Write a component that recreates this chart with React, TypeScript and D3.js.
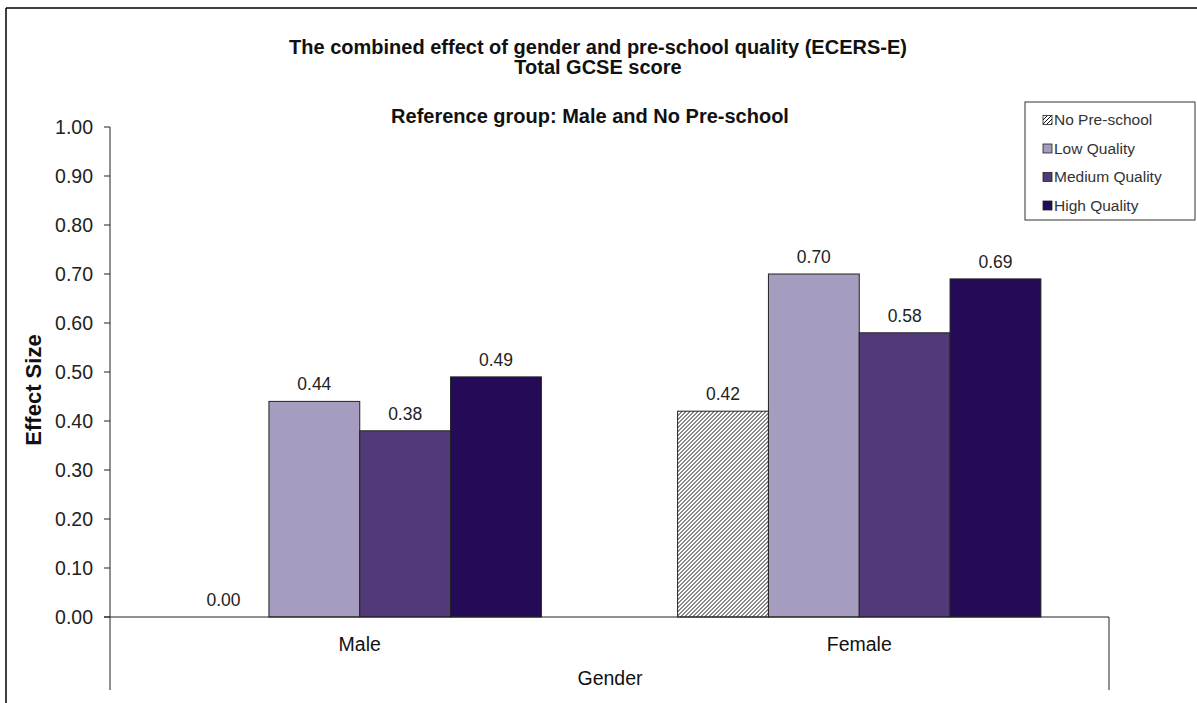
import * as d3 from 'd3';

const categories = ['Male', 'Female'];
const seriesNames = ['No Pre-school', 'Low Quality', 'Medium Quality', 'High Quality'];
const seriesColors = ['url(#hatch)', '#a69cbf', '#523a7a', '#240a57'];
const maleValues = [0.0, 0.44, 0.38, 0.49];
const femaleValues = [0.42, 0.7, 0.58, 0.69];
const yTicks = [0, 0.1, 0.2, 0.3, 0.4, 0.5, 0.6, 0.7, 0.8, 0.9, 1.0];

const values = [maleValues, femaleValues];

export default function App() {
  const width = 1197;
  const height = 703;
  const left = 110;
  const right = 1109;
  const top = 127;
  const bottom = 617;

  const x0 = d3.scaleBand().domain(categories).range([left, right]).paddingInner(0).paddingOuter(0);
  const x1 = d3
    .scaleBand()
    .domain(seriesNames)
    .range([0, x0.bandwidth()])
    .paddingOuter(0.75)
    .paddingInner(0);
  const y = d3.scaleLinear().domain([0, 1]).range([bottom, top]);

  const font = 'Arial, "Liberation Sans", sans-serif';

  return (
    <svg
      width={width}
      height={height}
      style={{ position: 'absolute', left: 0, top: 0, background: '#fff' }}
      fontFamily={font}
    >
      <defs>
        <pattern id='hatch' patternUnits='userSpaceOnUse' width={4} height={4}>
          <rect width={4} height={4} fill='#fff' />
          <path d='M-1,1 l2,-2 M0,4 l4,-4 M3,5 l2,-2' stroke='#111' strokeWidth={1} />
        </pattern>
      </defs>

      {/* outer frame */}
      <line x1={6} y1={8} x2={width} y2={8} stroke='#000' strokeWidth={1.5} />
      <line x1={6} y1={8} x2={6} y2={height} stroke='#000' strokeWidth={1.5} />

      {/* titles */}
      <text x={598} y={54} textAnchor='middle' fontWeight='bold' fontSize={20} fill='#111'>
        The combined effect of gender and pre-school quality (ECERS-E)
      </text>
      <text x={598} y={74} textAnchor='middle' fontWeight='bold' fontSize={20} fill='#111'>
        Total GCSE score
      </text>
      <text x={590} y={123} textAnchor='middle' fontWeight='bold' fontSize={20} fill='#111'>
        Reference group: Male and No Pre-school
      </text>

      {/* y axis */}
      <line x1={left} y1={top} x2={left} y2={690} stroke='#222' />
      {yTicks.map((t) => (
        <g key={t}>
          <line x1={left - 6} x2={left} y1={y(t)} y2={y(t)} stroke='#222' />
          <text x={left - 17} y={y(t)} dy='0.35em' textAnchor='end' fontSize={19.5} fill='#222'>
            {t.toFixed(2)}
          </text>
        </g>
      ))}
      <text
        transform={`translate(41,390) rotate(-90)`}
        textAnchor='middle'
        fontWeight='bold'
        fontSize={22}
        fill='#111'
      >
        Effect Size
      </text>

      {/* bars */}
      {categories.map((c, ci) => (
        <g key={c} transform={`translate(${x0(c)},0)`}>
          {seriesNames.map((s, si) => {
            const v = values[ci][si];
            const bx = x1(s) ?? 0;
            return (
              <g key={s}>
                {v > 0 && (
                  <rect
                    x={bx}
                    y={y(v)}
                    width={x1.bandwidth()}
                    height={y(0) - y(v)}
                    fill={seriesColors[si]}
                    stroke='#222'
                    strokeWidth={1}
                  />
                )}
                <text
                  x={bx + x1.bandwidth() / 2}
                  y={y(v) - 11}
                  textAnchor='middle'
                  fontSize={17.5}
                  fill='#222'
                >
                  {v.toFixed(2)}
                </text>
              </g>
            );
          })}
        </g>
      ))}

      {/* x axis */}
      <line x1={left - 6} x2={right} y1={bottom} y2={bottom} stroke='#222' />
      <line x1={right} x2={right} y1={bottom} y2={690} stroke='#222' />
      {categories.map((c) => (
        <text
          key={c}
          x={(x0(c) ?? 0) + x0.bandwidth() / 2}
          y={651}
          textAnchor='middle'
          fontSize={19.5}
          fill='#111'
        >
          {c}
        </text>
      ))}
      <text x={610} y={685} textAnchor='middle' fontSize={19.5} fill='#111'>
        Gender
      </text>

      {/* legend */}
      <rect x={1025} y={102} width={170} height={118} fill='#fff' stroke='#333' strokeWidth={1} />
      {seriesNames.map((s, i) => (
        <g key={s} transform={`translate(1043,${120 + i * 28.5})`}>
          <rect x={0} y={-4.5} width={9} height={9} fill={seriesColors[i]} stroke='#222' strokeWidth={0.8} />
          <text x={11} y={0} dy='0.35em' fontSize={15.5} fill='#333'>
            {s}
          </text>
        </g>
      ))}
    </svg>
  );
}
